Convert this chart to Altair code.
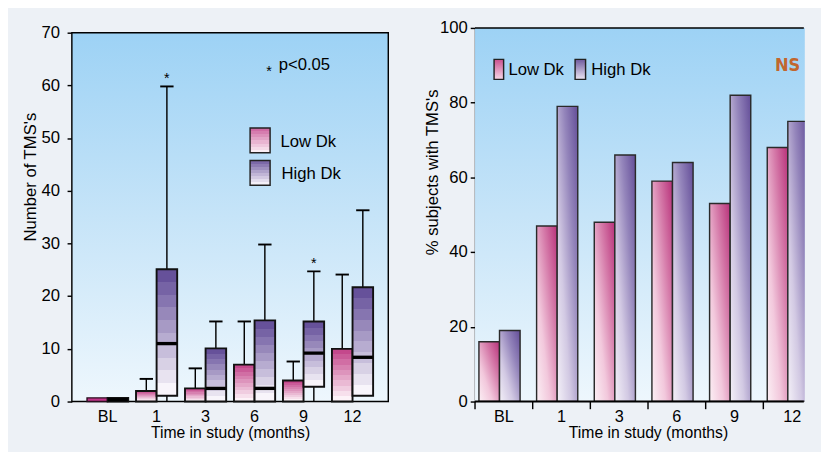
import altair as alt
import pandas as pd

# ---------------- data ----------------
months = ["BL", "1", "3", "6", "9", "12"]
groups = ["Low Dk", "High Dk"]

# left panel: box plots of number of TMS's
low_q1 = [0, 0, 0, 0, 0, 0]
low_q3 = [0.7, 2.0, 2.5, 7.0, 4.0, 10.0]
low_med = [0, 0, 0, 0, 0, 0]
low_min = [0, 0, 0, 0, 0, 0]
low_max = [0.7, 4.3, 6.3, 15.2, 7.6, 24.1]

high_q1 = [0, 1.1, 0, 0, 2.8, 1.1]
high_q3 = [0.7, 25.1, 10.1, 15.4, 15.2, 21.7]
high_med = [0.35, 11.0, 2.5, 2.5, 9.2, 8.4]
high_min = [0, 0, 0, 0, 0, 1.1]
high_max = [0.7, 59.8, 15.2, 29.8, 24.7, 36.3]

sig_months = ["1", "9"]  # * p<0.05 (High Dk)

# right panel: % subjects with TMS's
pct_low = [16, 47, 48, 59, 53, 68]
pct_high = [19, 79, 66, 64, 82, 75]

# ---------------- tables ----------------
rows = []
for i, m in enumerate(months):
    rows.append(dict(month=m, group="Low Dk", q1=low_q1[i], q3=low_q3[i], med=low_med[i], mn=low_min[i], mx=low_max[i]))
    rows.append(dict(month=m, group="High Dk", q1=high_q1[i], q3=high_q3[i], med=high_med[i], mn=high_min[i], mx=high_max[i]))
box_df = pd.DataFrame(rows)
sig_df = pd.DataFrame({"month": sig_months, "group": ["High Dk"] * len(sig_months),
                       "mx": [high_max[months.index(m)] for m in sig_months]})

pct_rows = []
for i, m in enumerate(months):
    pct_rows.append(dict(month=m, group="Low Dk", pct=pct_low[i]))
    pct_rows.append(dict(month=m, group="High Dk", pct=pct_high[i]))
pct_df = pd.DataFrame(pct_rows)
month_df = pd.DataFrame({"month": months})
one = pd.DataFrame({"a": [0]})


# ---------------- styles ----------------
def _rgb(h):
    h = h.lstrip("#")
    return [int(h[i:i + 2], 16) for i in (0, 2, 4)]


def _mix(a, b, t):
    ca, cb = _rgb(a), _rgb(b)
    return "#" + "".join(f"{round(ca[k] + (cb[k] - ca[k]) * t):02x}" for k in range(3))


def stepped(top, bottom, n=10):
    stops = []
    for i in range(n):
        c = _mix(top, bottom, i / (n - 1))
        stops.append(alt.GradientStop(offset=i / n, color=c))
        stops.append(alt.GradientStop(offset=(i + 1) / n, color=c))
    return alt.Gradient(gradient="linear", x1=0, y1=0, x2=0, y2=1, stops=stops)


def smooth(colors, x1=0, y1=0, x2=0, y2=1):
    n = len(colors)
    return alt.Gradient(gradient="linear", x1=x1, y1=y1, x2=x2, y2=y2,
                        stops=[alt.GradientStop(offset=i / (n - 1), color=c) for i, c in enumerate(colors)])


sky = smooth(["#9dd2f5", "#c6e4f8", "#eef7fd"])
box_low_fill = stepped("#c4488c", "#fdf3f8")
box_high_fill = stepped("#66519a", "#f8f5fb")
bar_low_fill = smooth(["#b8317a", "#d57aa9", "#f2c8dc", "#fcf0f5"], x1=1, y1=0, x2=0, y2=1)
bar_high_fill = smooth(["#634d98", "#9485bb", "#d2c9e3", "#f4f1f8"], x1=1, y1=0, x2=0, y2=1)

FONT = "Liberation Sans"
FS = 17.5      # y labels, y titles, annotations
XFS = 17       # x labels
XTFS = 16.5    # x titles
H = 392

# ---------------- left panel ----------------
LW = 332
yL_scale = alt.Scale(domain=[0, 70.9], nice=False, zero=True)
yL_axis = alt.Axis(values=[0, 10, 20, 30, 40, 50, 60, 70], grid=False, domain=False,
                   tickSize=5, tickColor="black", tickWidth=1.5, labelPadding=8,
                   titleX=-43, titleY=156, titleBaseline="middle")
YT_L = "Number of TMS's"


def yL(field):
    return alt.Y(field, type="quantitative", scale=yL_scale, axis=yL_axis, title=YT_L)


xL = alt.X("month:N", sort=months, title="Time in study (months)",
           scale=alt.Scale(domain=months, paddingInner=0, paddingOuter=0.23),
           axis=alt.Axis(labelAngle=0, ticks=False, domain=False, labelPadding=8,
                         labelFontSize=XFS, titleFontSize=XTFS,
                         titleY=33, titleBaseline="middle"))
xoffL = alt.XOffset("group:N", sort=groups,
                    scale=alt.Scale(domain=groups, paddingInner=0, paddingOuter=0.19))

bgL = alt.Chart(one).mark_rect(fill=sky, stroke="black", strokeWidth=1.5).encode(
    x=alt.value(0), x2=alt.value("width"),
    y=alt.Y(datum=70, type="quantitative", scale=yL_scale, axis=yL_axis, title=YT_L),
    y2=alt.datum(0))

base = alt.Chart(box_df)
whisk_up = base.mark_rule(color="black", strokeWidth=1.5).encode(
    x=xL, xOffset=xoffL, y=yL("q3"), y2="mx:Q")
whisk_dn = base.transform_filter("datum.mn < datum.q1").mark_rule(color="black", strokeWidth=1.5).encode(
    x=xL, xOffset=xoffL, y=yL("mn"), y2="q1:Q")
caps = base.transform_filter("datum.mx > datum.q3").mark_tick(
    orient="horizontal", size=14, thickness=2, color="black", opacity=1).encode(
    x=xL, xOffset=xoffL, y=yL("mx"))
box_low = base.transform_filter("datum.group == 'Low Dk' && datum.q3 - datum.q1 >= 1").mark_bar(
    fill=box_low_fill, stroke="#111", strokeWidth=2, opacity=1).encode(
    x=xL, xOffset=xoffL, y=yL("q1"), y2="q3:Q")
box_low_flat = base.transform_filter("datum.group == 'Low Dk' && datum.q3 - datum.q1 < 1").mark_bar(
    fill="#c2348a", stroke="#2a1020", strokeWidth=1.5, opacity=1).encode(
    x=xL, xOffset=xoffL, y=yL("q1"), y2="q3:Q")
box_high = base.transform_filter("datum.group == 'High Dk'").mark_bar(
    fill=box_high_fill, stroke="#111", strokeWidth=2, opacity=1).encode(
    x=xL, xOffset=xoffL, y=yL("q1"), y2="q3:Q")
medians = base.transform_filter("datum.med > 0").mark_tick(
    orient="horizontal", size=21, thickness=3.5, color="black", opacity=1).encode(
    x=xL, xOffset=xoffL, y=yL("med"))
stars = alt.Chart(sig_df).mark_text(text="*", dy=-9, fontSize=15, font=FONT, color="black").encode(
    x=xL, xOffset=xoffL, y=yL("mx"))


def label(txt, x, y, size=FS, **kw):
    return alt.Chart(one).mark_text(text=txt, fontSize=size, font=FONT, color="black",
                                    align="left", baseline="middle", **kw).encode(
        x=alt.value(x), y=alt.value(y))


def swatch(fill, x, x2, y, y2):
    return alt.Chart(one).mark_rect(fill=fill, stroke="#222", strokeWidth=1.5).encode(
        x=alt.value(x), x2=alt.value(x2), y=alt.value(y), y2=alt.value(y2))


ann_star = label("*", 204, 45, size=15)
ann_p = label("p<0.05", 217, 39)
legL_low = swatch(stepped("#d06aa3", "#fbeef4", 8), 187, 208, 105, 131)
legL_high = swatch(stepped("#7c69a8", "#f4f0f8", 8), 187, 208, 139, 165)
legL_t1 = label("Low Dk", 219, 120)
legL_t2 = label("High Dk", 220, 154)

left = alt.layer(bgL, whisk_up, whisk_dn, caps, box_low, box_low_flat, box_high, medians, stars,
                 ann_star, ann_p, legL_low, legL_high, legL_t1, legL_t2).properties(width=LW, height=H)

# ---------------- right panel (cut off by the page edge, as in the original) ----------------
RW = 346
STEP_R = 60.5
yR_scale = alt.Scale(domain=[0, 100], nice=False, zero=True)
yR_axis = alt.Axis(values=[0, 20, 40, 60, 80, 100], grid=False, domain=True, domainColor="black",
                   domainWidth=1.5, tickSize=5, tickColor="black", tickWidth=1.5,
                   labelPadding=3, titleX=-44, titleY=151, titleBaseline="middle")
YT_R = "% subjects with TMS's"
xR_scale = alt.Scale(domain=months, range=[0, STEP_R * len(months)], paddingInner=0, paddingOuter=0)
xR_axis = alt.Axis(labelAngle=0, ticks=False, domain=False, labelPadding=8,
                   labelFontSize=XFS, titleFontSize=XTFS, titleY=33, titleBaseline="middle")
xR = alt.X("month:N", sort=months, title="Time in study (months)", scale=xR_scale, axis=xR_axis)
xoffR = alt.XOffset("group:N", sort=groups,
                    scale=alt.Scale(domain=groups, paddingInner=0, paddingOuter=0.78))

bgR = alt.Chart(one).mark_rect(fill=sky).encode(
    x=alt.value(0), x2=alt.value("width"), y=alt.value(0), y2=alt.value("height"))
topR = alt.Chart(one).mark_rule(color="black", strokeWidth=1.5).encode(
    x=alt.value(0), x2=alt.value(RW - 1), y=alt.value(0))
pbase = alt.Chart(pct_df)
bars_low = pbase.transform_filter("datum.group == 'Low Dk'").mark_bar(
    fill=bar_low_fill, stroke="#2a2a2a", strokeWidth=1.5, opacity=1, clip=True).encode(
    x=xR, xOffset=xoffR,
    y=alt.Y("pct:Q", scale=yR_scale, axis=yR_axis, title=YT_R))
bars_high = pbase.transform_filter("datum.group == 'High Dk'").mark_bar(
    fill=bar_high_fill, stroke="#2a2a2a", strokeWidth=1.5, opacity=1, clip=True).encode(
    x=xR, xOffset=xoffR,
    y=alt.Y("pct:Q", scale=yR_scale, axis=yR_axis, title=YT_R))
baseR = alt.Chart(one).mark_rule(color="black", strokeWidth=2).encode(
    x=alt.value(0), x2=alt.value(RW - 1), y=alt.value("height"))
ticksR = alt.Chart(month_df).mark_rule(color="black", strokeWidth=1.5).encode(
    x=alt.X("month:N", sort=months, title="Time in study (months)", scale=xR_scale, axis=xR_axis,
            bandPosition=0),
    y=alt.value(H), y2=alt.value(H + 8))

legR_low = swatch(smooth(["#c9508f", "#f6d8e7"]), 20, 30, 33, 54)
legR_high = swatch(smooth(["#6f5a9e", "#ece6f3"]), 105, 116, 33, 54)
legR_t1 = label("Low Dk", 35, 44)
legR_t2 = label("High Dk", 122, 44)
ns = alt.Chart(one).mark_text(text="NS", fontSize=19,
                              font="Liberation Sans Narrow, DejaVu Sans Condensed, Roboto Condensed, Liberation Sans",
                              fontWeight="bold", color="#c2662e", align="center", baseline="middle").encode(
    x=alt.value(328), y=alt.value(39))

right = alt.layer(bgR, topR, bars_low, bars_high, baseR, ticksR,
                  legR_low, legR_high, legR_t1, legR_t2, ns).properties(width=RW, height=H)

chart = alt.hconcat(left, right, spacing=37).configure(
    background="#edf1f6", font=FONT, padding={"left": 15, "top": 1, "right": 0, "bottom": 0}
).configure_view(stroke=None).configure_axis(
    labelFontSize=FS, titleFontSize=FS, labelColor="black", titleColor="black",
    labelFont=FONT, titleFont=FONT, titleFontWeight="normal")

chart.save("out.html", embed_options={"renderer": "svg", "actions": False})
